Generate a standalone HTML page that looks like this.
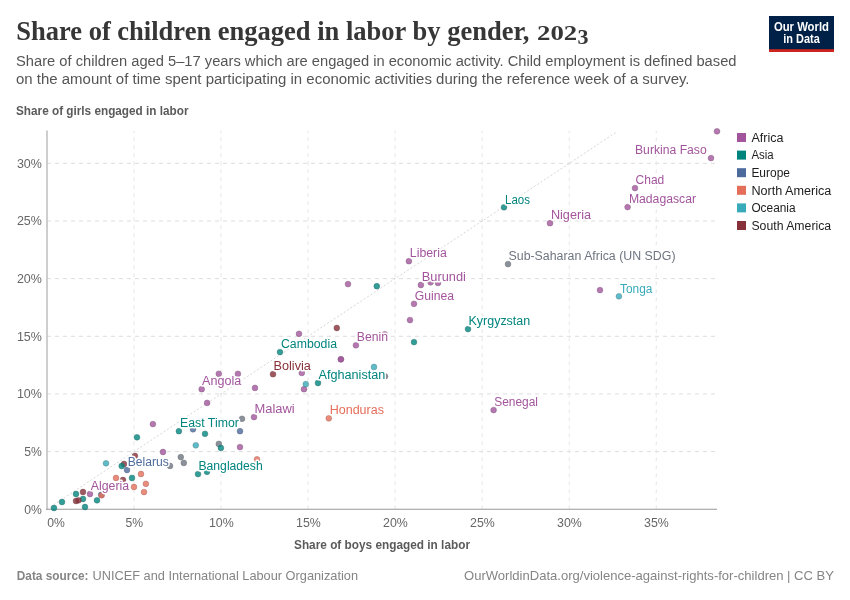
<!DOCTYPE html>
<html><head><meta charset="utf-8"><title>Share of children engaged in labor by gender, 2023</title>
<style>
html,body{margin:0;padding:0;background:#fff;}
body{width:850px;height:600px;overflow:hidden;font-family:"Liberation Sans",sans-serif;}
svg{display:block;will-change:transform;}
.halo{paint-order:stroke;stroke:#fff;stroke-width:3px;stroke-linejoin:round;}
</style></head><body>
<svg width="850" height="600" viewBox="0 0 850 600">
<rect width="850" height="600" fill="#fff"/>

<text x="16.2" y="39.5" font-size="27" fill="#363636" font-weight="bold" text-anchor="start" style="font-family:&quot;Liberation Serif&quot;,sans-serif" textLength="513.2" lengthAdjust="spacingAndGlyphs">Share of children engaged in labor by gender,</text>
<text x="537.0" y="40.0" font-size="20" fill="#363636" font-weight="bold" text-anchor="start" style="font-family:&quot;Liberation Serif&quot;,sans-serif" textLength="40.2" lengthAdjust="spacingAndGlyphs">202</text>
<text x="577.6" y="43.6" font-size="20" fill="#363636" font-weight="bold" text-anchor="start" style="font-family:&quot;Liberation Serif&quot;,sans-serif" textLength="11.0" lengthAdjust="spacingAndGlyphs">3</text>
<text x="16.0" y="65.9" font-size="14" fill="#555" font-weight="normal" text-anchor="start" style="font-family:&quot;Liberation Sans&quot;,sans-serif" textLength="720.5" lengthAdjust="spacingAndGlyphs">Share of children aged 5–17 years which are engaged in economic activity. Child employment is defined based</text>
<text x="16.0" y="84.0" font-size="14" fill="#555" font-weight="normal" text-anchor="start" style="font-family:&quot;Liberation Sans&quot;,sans-serif" textLength="673.5" lengthAdjust="spacingAndGlyphs">on the amount of time spent participating in economic activities during the reference week of a survey.</text>
<text x="16.0" y="115.0" font-size="12.5" fill="#5b5b5b" font-weight="bold" text-anchor="start" style="font-family:&quot;Liberation Sans&quot;,sans-serif" textLength="172.5" lengthAdjust="spacingAndGlyphs">Share of girls engaged in labor</text>
<rect x="769" y="16" width="65" height="36" fill="#002147"/><rect x="769" y="49.2" width="65" height="2.8" fill="#ce261e"/>
<text x="773.9" y="30.6" font-size="12" fill="#fff" font-weight="bold" text-anchor="start" style="font-family:&quot;Liberation Sans&quot;,sans-serif" textLength="55.1" lengthAdjust="spacingAndGlyphs">Our World</text>
<text x="783.3" y="42.6" font-size="12" fill="#fff" font-weight="bold" text-anchor="start" style="font-family:&quot;Liberation Sans&quot;,sans-serif" textLength="36.5" lengthAdjust="spacingAndGlyphs">in Data</text>
<g stroke="#dddddd" stroke-width="1" stroke-dasharray="4,4" fill="none">
<line x1="47" x2="715.5" y1="451.60" y2="451.60"/>
<line x1="47" x2="715.5" y1="393.95" y2="393.95"/>
<line x1="47" x2="715.5" y1="336.30" y2="336.30"/>
<line x1="47" x2="715.5" y1="278.65" y2="278.65"/>
<line x1="47" x2="715.5" y1="221.00" y2="221.00"/>
<line x1="47" x2="715.5" y1="163.35" y2="163.35"/>
</g><g stroke="#e6e6e6" stroke-width="1" stroke-dasharray="4,4" fill="none">
<line x1="134.00" x2="134.00" y1="509.25" y2="130.5"/>
<line x1="221.04" x2="221.04" y1="509.25" y2="130.5"/>
<line x1="308.08" x2="308.08" y1="509.25" y2="130.5"/>
<line x1="395.11" x2="395.11" y1="509.25" y2="130.5"/>
<line x1="482.14" x2="482.14" y1="509.25" y2="130.5"/>
<line x1="569.18" x2="569.18" y1="509.25" y2="130.5"/>
<line x1="656.22" x2="656.22" y1="509.25" y2="130.5"/>
</g>
<line x1="47" y1="509.25" x2="616.6" y2="132" stroke="#ccc" stroke-width="0.8" stroke-dasharray="2,2"/>
<line x1="47" x2="47" y1="130.5" y2="509.7" stroke="#c2c2c2" stroke-width="1.6"/>
<line x1="46.2" x2="717" y1="509.25" y2="509.25" stroke="#999" stroke-width="1.1"/>
<text x="24.3" y="513.6" font-size="13.5" fill="#666" font-weight="normal" text-anchor="start" style="font-family:&quot;Liberation Sans&quot;,sans-serif" textLength="17.6" lengthAdjust="spacingAndGlyphs">0%</text>
<text x="24.3" y="456.0" font-size="13.5" fill="#666" font-weight="normal" text-anchor="start" style="font-family:&quot;Liberation Sans&quot;,sans-serif" textLength="17.6" lengthAdjust="spacingAndGlyphs">5%</text>
<text x="16.9" y="398.3" font-size="13.5" fill="#666" font-weight="normal" text-anchor="start" style="font-family:&quot;Liberation Sans&quot;,sans-serif" textLength="25.0" lengthAdjust="spacingAndGlyphs">10%</text>
<text x="16.9" y="340.7" font-size="13.5" fill="#666" font-weight="normal" text-anchor="start" style="font-family:&quot;Liberation Sans&quot;,sans-serif" textLength="25.0" lengthAdjust="spacingAndGlyphs">15%</text>
<text x="16.9" y="283.0" font-size="13.5" fill="#666" font-weight="normal" text-anchor="start" style="font-family:&quot;Liberation Sans&quot;,sans-serif" textLength="25.0" lengthAdjust="spacingAndGlyphs">20%</text>
<text x="16.9" y="225.4" font-size="13.5" fill="#666" font-weight="normal" text-anchor="start" style="font-family:&quot;Liberation Sans&quot;,sans-serif" textLength="25.0" lengthAdjust="spacingAndGlyphs">25%</text>
<text x="16.9" y="167.8" font-size="13.5" fill="#666" font-weight="normal" text-anchor="start" style="font-family:&quot;Liberation Sans&quot;,sans-serif" textLength="25.0" lengthAdjust="spacingAndGlyphs">30%</text>
<text x="47.2" y="527.4" font-size="13.5" fill="#666" font-weight="normal" text-anchor="start" style="font-family:&quot;Liberation Sans&quot;,sans-serif" textLength="17.6" lengthAdjust="spacingAndGlyphs">0%</text>
<text x="125.5" y="527.4" font-size="13.5" fill="#666" font-weight="normal" text-anchor="start" style="font-family:&quot;Liberation Sans&quot;,sans-serif" textLength="17.6" lengthAdjust="spacingAndGlyphs">5%</text>
<text x="208.9" y="527.4" font-size="13.5" fill="#666" font-weight="normal" text-anchor="start" style="font-family:&quot;Liberation Sans&quot;,sans-serif" textLength="24.8" lengthAdjust="spacingAndGlyphs">10%</text>
<text x="296.0" y="527.4" font-size="13.5" fill="#666" font-weight="normal" text-anchor="start" style="font-family:&quot;Liberation Sans&quot;,sans-serif" textLength="24.8" lengthAdjust="spacingAndGlyphs">15%</text>
<text x="383.0" y="527.4" font-size="13.5" fill="#666" font-weight="normal" text-anchor="start" style="font-family:&quot;Liberation Sans&quot;,sans-serif" textLength="24.8" lengthAdjust="spacingAndGlyphs">20%</text>
<text x="470.0" y="527.4" font-size="13.5" fill="#666" font-weight="normal" text-anchor="start" style="font-family:&quot;Liberation Sans&quot;,sans-serif" textLength="24.8" lengthAdjust="spacingAndGlyphs">25%</text>
<text x="557.1" y="527.4" font-size="13.5" fill="#666" font-weight="normal" text-anchor="start" style="font-family:&quot;Liberation Sans&quot;,sans-serif" textLength="24.8" lengthAdjust="spacingAndGlyphs">30%</text>
<text x="644.1" y="527.4" font-size="13.5" fill="#666" font-weight="normal" text-anchor="start" style="font-family:&quot;Liberation Sans&quot;,sans-serif" textLength="24.8" lengthAdjust="spacingAndGlyphs">35%</text>
<text x="382.0" y="549.0" font-size="12.5" fill="#5b5b5b" font-weight="bold" text-anchor="middle" style="font-family:&quot;Liberation Sans&quot;,sans-serif" textLength="176.0" lengthAdjust="spacingAndGlyphs">Share of boys engaged in labor</text>
<g stroke-width="0.5">
<circle cx="54.0" cy="508.0" r="2.9" fill="#00847E" fill-opacity="0.8" stroke="#2d6f6c" stroke-opacity="0.85"/>
<circle cx="62.0" cy="502.0" r="2.9" fill="#00847E" fill-opacity="0.8" stroke="#2d6f6c" stroke-opacity="0.85"/>
<circle cx="76.0" cy="494.0" r="2.9" fill="#00847E" fill-opacity="0.8" stroke="#2d6f6c" stroke-opacity="0.85"/>
<circle cx="83.0" cy="492.0" r="2.9" fill="#883039" fill-opacity="0.8" stroke="#714549" stroke-opacity="0.85"/>
<circle cx="90.0" cy="494.0" r="2.9" fill="#A2559C" fill-opacity="0.8" stroke="#7e577b" stroke-opacity="0.85"/>
<circle cx="83.0" cy="499.0" r="2.9" fill="#00847E" fill-opacity="0.8" stroke="#2d6f6c" stroke-opacity="0.85"/>
<circle cx="76.0" cy="501.0" r="2.9" fill="#883039" fill-opacity="0.8" stroke="#714549" stroke-opacity="0.85"/>
<circle cx="78.5" cy="500.3" r="2.9" fill="#883039" fill-opacity="0.8" stroke="#714549" stroke-opacity="0.85"/>
<circle cx="85.0" cy="507.0" r="2.9" fill="#00847E" fill-opacity="0.8" stroke="#2d6f6c" stroke-opacity="0.85"/>
<circle cx="97.0" cy="500.3" r="2.9" fill="#00847E" fill-opacity="0.8" stroke="#2d6f6c" stroke-opacity="0.85"/>
<circle cx="101.2" cy="494.7" r="2.9" fill="#4C6A9C" fill-opacity="0.8" stroke="#53627b" stroke-opacity="0.85"/>
<circle cx="101.7" cy="495.3" r="2.9" fill="#E56E5A" fill-opacity="0.8" stroke="#9f645a" stroke-opacity="0.85"/>
<circle cx="106.0" cy="463.3" r="2.9" fill="#38AABA" fill-opacity="0.8" stroke="#49828a" stroke-opacity="0.85"/>
<circle cx="124.0" cy="464.0" r="2.9" fill="#883039" fill-opacity="0.8" stroke="#714549" stroke-opacity="0.85"/>
<circle cx="121.7" cy="466.0" r="2.9" fill="#00847E" fill-opacity="0.8" stroke="#2d6f6c" stroke-opacity="0.85"/>
<circle cx="127.0" cy="470.0" r="2.9" fill="#4C6A9C" fill-opacity="0.8" stroke="#53627b" stroke-opacity="0.85"/>
<circle cx="135.0" cy="456.0" r="2.9" fill="#883039" fill-opacity="0.8" stroke="#714549" stroke-opacity="0.85"/>
<circle cx="116.0" cy="478.0" r="2.9" fill="#E56E5A" fill-opacity="0.8" stroke="#9f645a" stroke-opacity="0.85"/>
<circle cx="123.0" cy="480.0" r="2.9" fill="#883039" fill-opacity="0.8" stroke="#714549" stroke-opacity="0.85"/>
<circle cx="132.0" cy="478.0" r="2.9" fill="#00847E" fill-opacity="0.8" stroke="#2d6f6c" stroke-opacity="0.85"/>
<circle cx="134.0" cy="487.0" r="2.9" fill="#E56E5A" fill-opacity="0.8" stroke="#9f645a" stroke-opacity="0.85"/>
<circle cx="141.0" cy="474.0" r="2.9" fill="#E56E5A" fill-opacity="0.8" stroke="#9f645a" stroke-opacity="0.85"/>
<circle cx="145.9" cy="483.8" r="2.9" fill="#E56E5A" fill-opacity="0.8" stroke="#9f645a" stroke-opacity="0.85"/>
<circle cx="144.0" cy="492.1" r="2.9" fill="#E56E5A" fill-opacity="0.8" stroke="#9f645a" stroke-opacity="0.85"/>
<circle cx="207.1" cy="402.9" r="2.9" fill="#A2559C" fill-opacity="0.8" stroke="#7e577b" stroke-opacity="0.85"/>
<circle cx="152.9" cy="424.1" r="2.9" fill="#A2559C" fill-opacity="0.8" stroke="#7e577b" stroke-opacity="0.85"/>
<circle cx="137.0" cy="437.3" r="2.9" fill="#00847E" fill-opacity="0.8" stroke="#2d6f6c" stroke-opacity="0.85"/>
<circle cx="178.9" cy="431.2" r="2.9" fill="#00847E" fill-opacity="0.8" stroke="#2d6f6c" stroke-opacity="0.85"/>
<circle cx="193.0" cy="429.3" r="2.9" fill="#4C6A9C" fill-opacity="0.8" stroke="#53627b" stroke-opacity="0.85"/>
<circle cx="205.0" cy="433.8" r="2.9" fill="#00847E" fill-opacity="0.8" stroke="#2d6f6c" stroke-opacity="0.85"/>
<circle cx="242.0" cy="418.8" r="2.9" fill="#6E7581" fill-opacity="0.8" stroke="#64676d" stroke-opacity="0.85"/>
<circle cx="254.0" cy="417.1" r="2.9" fill="#A2559C" fill-opacity="0.8" stroke="#7e577b" stroke-opacity="0.85"/>
<circle cx="240.0" cy="431.2" r="2.9" fill="#4C6A9C" fill-opacity="0.8" stroke="#53627b" stroke-opacity="0.85"/>
<circle cx="195.8" cy="445.3" r="2.9" fill="#38AABA" fill-opacity="0.8" stroke="#49828a" stroke-opacity="0.85"/>
<circle cx="218.8" cy="443.9" r="2.9" fill="#6E7581" fill-opacity="0.8" stroke="#64676d" stroke-opacity="0.85"/>
<circle cx="220.9" cy="447.9" r="2.9" fill="#00847E" fill-opacity="0.8" stroke="#2d6f6c" stroke-opacity="0.85"/>
<circle cx="240.0" cy="447.1" r="2.9" fill="#A2559C" fill-opacity="0.8" stroke="#7e577b" stroke-opacity="0.85"/>
<circle cx="163.0" cy="452.0" r="2.9" fill="#A2559C" fill-opacity="0.8" stroke="#7e577b" stroke-opacity="0.85"/>
<circle cx="180.8" cy="457.1" r="2.9" fill="#6E7581" fill-opacity="0.8" stroke="#64676d" stroke-opacity="0.85"/>
<circle cx="183.8" cy="462.9" r="2.9" fill="#6E7581" fill-opacity="0.8" stroke="#64676d" stroke-opacity="0.85"/>
<circle cx="170.0" cy="465.9" r="2.9" fill="#6E7581" fill-opacity="0.8" stroke="#64676d" stroke-opacity="0.85"/>
<circle cx="257.0" cy="459.3" r="2.9" fill="#E56E5A" fill-opacity="0.8" stroke="#9f645a" stroke-opacity="0.85"/>
<circle cx="198.0" cy="474.1" r="2.9" fill="#00847E" fill-opacity="0.8" stroke="#2d6f6c" stroke-opacity="0.85"/>
<circle cx="207.0" cy="471.8" r="2.9" fill="#00847E" fill-opacity="0.8" stroke="#2d6f6c" stroke-opacity="0.85"/>
<circle cx="299.0" cy="333.8" r="2.9" fill="#A2559C" fill-opacity="0.8" stroke="#7e577b" stroke-opacity="0.85"/>
<circle cx="280.0" cy="352.1" r="2.9" fill="#00847E" fill-opacity="0.8" stroke="#2d6f6c" stroke-opacity="0.85"/>
<circle cx="273.0" cy="374.2" r="2.9" fill="#883039" fill-opacity="0.8" stroke="#714549" stroke-opacity="0.85"/>
<circle cx="301.8" cy="372.9" r="2.9" fill="#A2559C" fill-opacity="0.8" stroke="#7e577b" stroke-opacity="0.85"/>
<circle cx="218.8" cy="373.8" r="2.9" fill="#A2559C" fill-opacity="0.8" stroke="#7e577b" stroke-opacity="0.85"/>
<circle cx="237.9" cy="373.8" r="2.9" fill="#A2559C" fill-opacity="0.8" stroke="#7e577b" stroke-opacity="0.85"/>
<circle cx="201.7" cy="389.2" r="2.9" fill="#A2559C" fill-opacity="0.8" stroke="#7e577b" stroke-opacity="0.85"/>
<circle cx="255.0" cy="387.9" r="2.9" fill="#A2559C" fill-opacity="0.8" stroke="#7e577b" stroke-opacity="0.85"/>
<circle cx="304.0" cy="389.2" r="2.9" fill="#A2559C" fill-opacity="0.8" stroke="#7e577b" stroke-opacity="0.85"/>
<circle cx="305.8" cy="384.1" r="2.9" fill="#38AABA" fill-opacity="0.8" stroke="#49828a" stroke-opacity="0.85"/>
<circle cx="318.0" cy="383.0" r="2.9" fill="#00847E" fill-opacity="0.8" stroke="#2d6f6c" stroke-opacity="0.85"/>
<circle cx="414.0" cy="303.8" r="2.9" fill="#A2559C" fill-opacity="0.8" stroke="#7e577b" stroke-opacity="0.85"/>
<circle cx="410.0" cy="320.1" r="2.9" fill="#A2559C" fill-opacity="0.8" stroke="#7e577b" stroke-opacity="0.85"/>
<circle cx="414.0" cy="342.1" r="2.9" fill="#00847E" fill-opacity="0.8" stroke="#2d6f6c" stroke-opacity="0.85"/>
<circle cx="336.8" cy="328.0" r="2.9" fill="#883039" fill-opacity="0.8" stroke="#714549" stroke-opacity="0.85"/>
<circle cx="355.9" cy="345.3" r="2.9" fill="#A2559C" fill-opacity="0.8" stroke="#7e577b" stroke-opacity="0.85"/>
<circle cx="340.9" cy="359.3" r="2.9" fill="#A2559C" fill-opacity="0.8" stroke="#7e577b" stroke-opacity="0.85"/>
<circle cx="340.9" cy="359.3" r="2.9" fill="#A2559C" fill-opacity="0.8" stroke="#7e577b" stroke-opacity="0.85"/>
<circle cx="374.0" cy="367.0" r="2.9" fill="#38AABA" fill-opacity="0.8" stroke="#49828a" stroke-opacity="0.85"/>
<circle cx="384.8" cy="334.3" r="2.9" fill="#A2559C" fill-opacity="0.8" stroke="#7e577b" stroke-opacity="0.85"/>
<circle cx="385.0" cy="376.3" r="2.9" fill="#6E7581" fill-opacity="0.8" stroke="#64676d" stroke-opacity="0.85"/>
<circle cx="408.9" cy="261.2" r="2.9" fill="#A2559C" fill-opacity="0.8" stroke="#7e577b" stroke-opacity="0.85"/>
<circle cx="348.0" cy="284.1" r="2.9" fill="#A2559C" fill-opacity="0.8" stroke="#7e577b" stroke-opacity="0.85"/>
<circle cx="376.8" cy="286.2" r="2.9" fill="#00847E" fill-opacity="0.8" stroke="#2d6f6c" stroke-opacity="0.85"/>
<circle cx="420.9" cy="285.0" r="2.9" fill="#A2559C" fill-opacity="0.8" stroke="#7e577b" stroke-opacity="0.85"/>
<circle cx="430.6" cy="282.3" r="2.9" fill="#A2559C" fill-opacity="0.8" stroke="#7e577b" stroke-opacity="0.85"/>
<circle cx="438.0" cy="282.9" r="2.9" fill="#A2559C" fill-opacity="0.8" stroke="#7e577b" stroke-opacity="0.85"/>
<circle cx="504.0" cy="207.3" r="2.9" fill="#00847E" fill-opacity="0.8" stroke="#2d6f6c" stroke-opacity="0.85"/>
<circle cx="550.0" cy="223.2" r="2.9" fill="#A2559C" fill-opacity="0.8" stroke="#7e577b" stroke-opacity="0.85"/>
<circle cx="508.0" cy="264.1" r="2.9" fill="#6E7581" fill-opacity="0.8" stroke="#64676d" stroke-opacity="0.85"/>
<circle cx="717.0" cy="131.3" r="2.9" fill="#A2559C" fill-opacity="0.8" stroke="#7e577b" stroke-opacity="0.85"/>
<circle cx="711.0" cy="158.1" r="2.9" fill="#A2559C" fill-opacity="0.8" stroke="#7e577b" stroke-opacity="0.85"/>
<circle cx="635.0" cy="188.1" r="2.9" fill="#A2559C" fill-opacity="0.8" stroke="#7e577b" stroke-opacity="0.85"/>
<circle cx="627.6" cy="207.1" r="2.9" fill="#A2559C" fill-opacity="0.8" stroke="#7e577b" stroke-opacity="0.85"/>
<circle cx="600.0" cy="290.1" r="2.9" fill="#A2559C" fill-opacity="0.8" stroke="#7e577b" stroke-opacity="0.85"/>
<circle cx="618.9" cy="296.3" r="2.9" fill="#38AABA" fill-opacity="0.8" stroke="#49828a" stroke-opacity="0.85"/>
<circle cx="468.0" cy="329.1" r="2.9" fill="#00847E" fill-opacity="0.8" stroke="#2d6f6c" stroke-opacity="0.85"/>
<circle cx="328.8" cy="418.3" r="2.9" fill="#E56E5A" fill-opacity="0.8" stroke="#9f645a" stroke-opacity="0.85"/>
<circle cx="493.6" cy="410.1" r="2.9" fill="#A2559C" fill-opacity="0.8" stroke="#7e577b" stroke-opacity="0.85"/>
</g>
<g class="halo">
<text x="635.0" y="154.1" font-size="12.5" fill="#A2559C" font-weight="normal" text-anchor="start" style="font-family:&quot;Liberation Sans&quot;,sans-serif" textLength="71.7" lengthAdjust="spacingAndGlyphs">Burkina Faso</text>
<text x="635.6" y="184.1" font-size="12.5" fill="#A2559C" font-weight="normal" text-anchor="start" style="font-family:&quot;Liberation Sans&quot;,sans-serif" textLength="28.7" lengthAdjust="spacingAndGlyphs">Chad</text>
<text x="628.9" y="203.2" font-size="12.5" fill="#A2559C" font-weight="normal" text-anchor="start" style="font-family:&quot;Liberation Sans&quot;,sans-serif" textLength="67.1" lengthAdjust="spacingAndGlyphs">Madagascar</text>
<text x="505.0" y="203.6" font-size="12.5" fill="#00847E" font-weight="normal" text-anchor="start" style="font-family:&quot;Liberation Sans&quot;,sans-serif" textLength="25.0" lengthAdjust="spacingAndGlyphs">Laos</text>
<text x="550.9" y="219.1" font-size="12.5" fill="#A2559C" font-weight="normal" text-anchor="start" style="font-family:&quot;Liberation Sans&quot;,sans-serif" textLength="40.1" lengthAdjust="spacingAndGlyphs">Nigeria</text>
<text x="508.5" y="259.5" font-size="12.5" fill="#6E7581" font-weight="normal" text-anchor="start" style="font-family:&quot;Liberation Sans&quot;,sans-serif" textLength="167.0" lengthAdjust="spacingAndGlyphs">Sub-Saharan Africa (UN SDG)</text>
<text x="620.0" y="292.6" font-size="12.5" fill="#38AABA" font-weight="normal" text-anchor="start" style="font-family:&quot;Liberation Sans&quot;,sans-serif" textLength="32.4" lengthAdjust="spacingAndGlyphs">Tonga</text>
<text x="409.8" y="257.1" font-size="12.5" fill="#A2559C" font-weight="normal" text-anchor="start" style="font-family:&quot;Liberation Sans&quot;,sans-serif" textLength="37.0" lengthAdjust="spacingAndGlyphs">Liberia</text>
<text x="421.8" y="281.1" font-size="12.5" fill="#A2559C" font-weight="normal" text-anchor="start" style="font-family:&quot;Liberation Sans&quot;,sans-serif" textLength="44.1" lengthAdjust="spacingAndGlyphs">Burundi</text>
<text x="414.7" y="299.9" font-size="12.5" fill="#A2559C" font-weight="normal" text-anchor="start" style="font-family:&quot;Liberation Sans&quot;,sans-serif" textLength="39.3" lengthAdjust="spacingAndGlyphs">Guinea</text>
<text x="468.5" y="325.3" font-size="12.5" fill="#00847E" font-weight="normal" text-anchor="start" style="font-family:&quot;Liberation Sans&quot;,sans-serif" textLength="61.7" lengthAdjust="spacingAndGlyphs">Kyrgyzstan</text>
<text x="356.8" y="340.7" font-size="12.5" fill="#A2559C" font-weight="normal" text-anchor="start" style="font-family:&quot;Liberation Sans&quot;,sans-serif" textLength="31.2" lengthAdjust="spacingAndGlyphs">Benin</text>
<text x="281.0" y="348.2" font-size="12.5" fill="#00847E" font-weight="normal" text-anchor="start" style="font-family:&quot;Liberation Sans&quot;,sans-serif" textLength="56.0" lengthAdjust="spacingAndGlyphs">Cambodia</text>
<text x="273.5" y="369.6" font-size="12.5" fill="#883039" font-weight="normal" text-anchor="start" style="font-family:&quot;Liberation Sans&quot;,sans-serif" textLength="37.4" lengthAdjust="spacingAndGlyphs">Bolivia</text>
<text x="318.5" y="378.6" font-size="12.5" fill="#00847E" font-weight="normal" text-anchor="start" style="font-family:&quot;Liberation Sans&quot;,sans-serif" textLength="66.8" lengthAdjust="spacingAndGlyphs">Afghanistan</text>
<text x="202.0" y="384.6" font-size="12.5" fill="#A2559C" font-weight="normal" text-anchor="start" style="font-family:&quot;Liberation Sans&quot;,sans-serif" textLength="39.2" lengthAdjust="spacingAndGlyphs">Angola</text>
<text x="254.5" y="413.0" font-size="12.5" fill="#A2559C" font-weight="normal" text-anchor="start" style="font-family:&quot;Liberation Sans&quot;,sans-serif" textLength="40.2" lengthAdjust="spacingAndGlyphs">Malawi</text>
<text x="180.0" y="427.1" font-size="12.5" fill="#00847E" font-weight="normal" text-anchor="start" style="font-family:&quot;Liberation Sans&quot;,sans-serif" textLength="58.9" lengthAdjust="spacingAndGlyphs">East Timor</text>
<text x="329.7" y="414.0" font-size="12.5" fill="#E56E5A" font-weight="normal" text-anchor="start" style="font-family:&quot;Liberation Sans&quot;,sans-serif" textLength="54.3" lengthAdjust="spacingAndGlyphs">Honduras</text>
<text x="494.2" y="405.8" font-size="12.5" fill="#A2559C" font-weight="normal" text-anchor="start" style="font-family:&quot;Liberation Sans&quot;,sans-serif" textLength="43.8" lengthAdjust="spacingAndGlyphs">Senegal</text>
<text x="127.7" y="465.9" font-size="12.5" fill="#4C6A9C" font-weight="normal" text-anchor="start" style="font-family:&quot;Liberation Sans&quot;,sans-serif" textLength="41.1" lengthAdjust="spacingAndGlyphs">Belarus</text>
<text x="198.5" y="469.8" font-size="12.5" fill="#00847E" font-weight="normal" text-anchor="start" style="font-family:&quot;Liberation Sans&quot;,sans-serif" textLength="64.2" lengthAdjust="spacingAndGlyphs">Bangladesh</text>
<text x="90.8" y="489.7" font-size="12.5" fill="#A2559C" font-weight="normal" text-anchor="start" style="font-family:&quot;Liberation Sans&quot;,sans-serif" textLength="38.3" lengthAdjust="spacingAndGlyphs">Algeria</text>
</g>
<rect x="737" y="133.0" width="9" height="9" fill="#A2559C"/>
<text x="751.4" y="141.8" font-size="12.5" fill="#1d1d1d" font-weight="normal" text-anchor="start" style="font-family:&quot;Liberation Sans&quot;,sans-serif" textLength="32.0" lengthAdjust="spacingAndGlyphs">Africa</text>
<rect x="737" y="150.6" width="9" height="9" fill="#00847E"/>
<text x="751.4" y="159.4" font-size="12.5" fill="#1d1d1d" font-weight="normal" text-anchor="start" style="font-family:&quot;Liberation Sans&quot;,sans-serif" textLength="22.2" lengthAdjust="spacingAndGlyphs">Asia</text>
<rect x="737" y="168.2" width="9" height="9" fill="#4C6A9C"/>
<text x="751.4" y="177.0" font-size="12.5" fill="#1d1d1d" font-weight="normal" text-anchor="start" style="font-family:&quot;Liberation Sans&quot;,sans-serif" textLength="38.6" lengthAdjust="spacingAndGlyphs">Europe</text>
<rect x="737" y="185.8" width="9" height="9" fill="#E56E5A"/>
<text x="751.4" y="194.6" font-size="12.5" fill="#1d1d1d" font-weight="normal" text-anchor="start" style="font-family:&quot;Liberation Sans&quot;,sans-serif" textLength="80.0" lengthAdjust="spacingAndGlyphs">North America</text>
<rect x="737" y="203.4" width="9" height="9" fill="#38AABA"/>
<text x="751.4" y="212.2" font-size="12.5" fill="#1d1d1d" font-weight="normal" text-anchor="start" style="font-family:&quot;Liberation Sans&quot;,sans-serif" textLength="44.2" lengthAdjust="spacingAndGlyphs">Oceania</text>
<rect x="737" y="221.0" width="9" height="9" fill="#883039"/>
<text x="751.4" y="229.8" font-size="12.5" fill="#1d1d1d" font-weight="normal" text-anchor="start" style="font-family:&quot;Liberation Sans&quot;,sans-serif" textLength="79.8" lengthAdjust="spacingAndGlyphs">South America</text>
<text x="16.8" y="580.3" font-size="13" fill="#858585" font-weight="bold" text-anchor="start" style="font-family:&quot;Liberation Sans&quot;,sans-serif" textLength="71.7" lengthAdjust="spacingAndGlyphs">Data source:</text>
<text x="92.5" y="580.3" font-size="13" fill="#858585" font-weight="normal" text-anchor="start" style="font-family:&quot;Liberation Sans&quot;,sans-serif" textLength="265.5" lengthAdjust="spacingAndGlyphs">UNICEF and International Labour Organization</text>
<text x="464.0" y="580.3" font-size="13" fill="#858585" font-weight="normal" text-anchor="start" style="font-family:&quot;Liberation Sans&quot;,sans-serif" textLength="370.0" lengthAdjust="spacingAndGlyphs">OurWorldinData.org/violence-against-rights-for-children | CC BY</text>
</svg></body></html>
